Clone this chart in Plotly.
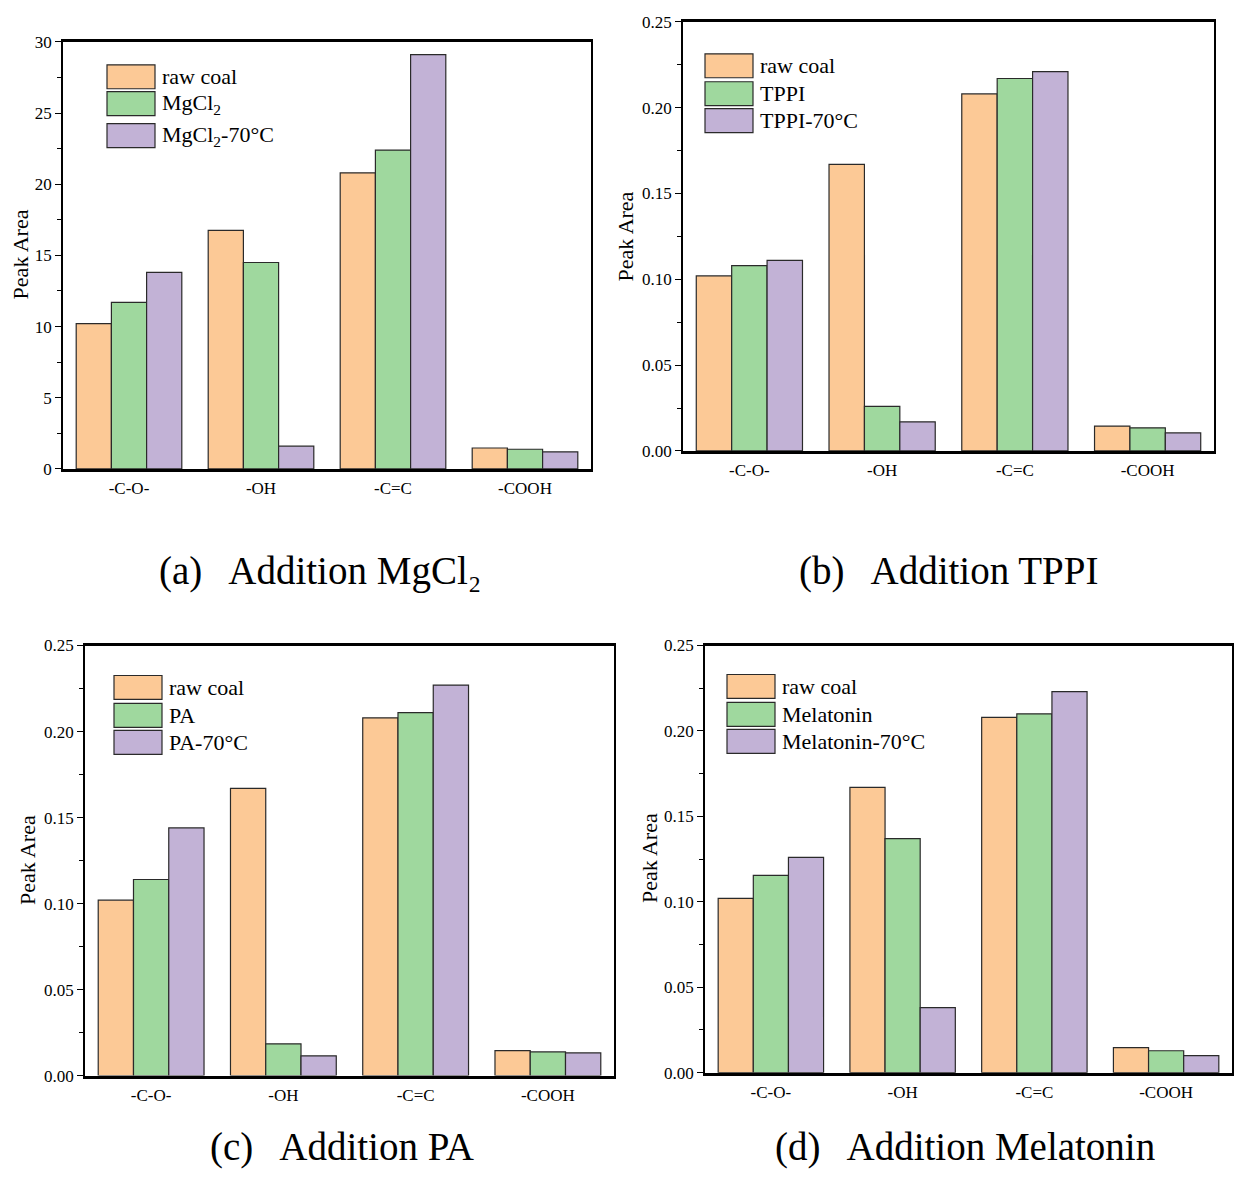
import plotly.graph_objects as go

W, H = 1234, 1180

categories = ["-C-O-", "-OH", "-C=C", "-COOH"]

# Panel (a) MgCl2
a_names = ["raw coal", "MgCl<sub>2</sub>", "MgCl<sub>2</sub>-70°C"]
a_raw = [10.2, 16.75, 20.8, 1.47]
a_add = [11.7, 14.5, 22.4, 1.38]
a_70 = [13.8, 1.6, 29.1, 1.2]

# Panel (b) TPPI
b_names = ["raw coal", "TPPI", "TPPI-70°C"]
b_raw = [0.102, 0.167, 0.208, 0.0145]
b_add = [0.108, 0.026, 0.217, 0.0135]
b_70 = [0.111, 0.017, 0.221, 0.0105]

# Panel (c) PA
c_names = ["raw coal", "PA", "PA-70°C"]
c_raw = [0.102, 0.167, 0.208, 0.0145]
c_add = [0.114, 0.0185, 0.211, 0.0138]
c_70 = [0.144, 0.0115, 0.227, 0.0132]

# Panel (d) Melatonin
d_names = ["raw coal", "Melatonin", "Melatonin-70°C"]
d_raw = [0.102, 0.167, 0.208, 0.0146]
d_add = [0.1155, 0.137, 0.210, 0.0128]
d_70 = [0.126, 0.038, 0.223, 0.0100]

captions = ["(a)\u2002\u2006Addition MgCl\u2082", "(b)\u2002\u2006Addition TPPI",
            "(c)\u2002\u2006Addition PA", "(d)\u2002\u2006Addition Melatonin"]
y_title = "Peak Area"

colors = ["#FCC996", "#9FD89E", "#C2B2D6"]
FONT = "Liberation Serif, Times New Roman, serif"

# layout geometry in pixels: (x0, x1, ytop, ybottom)
panels = [
    dict(box=(63, 591, 40, 468), rng=[0, 30], dtick=5, fmt="d", names=a_names,
         data=[a_raw, a_add, a_70], leg=(107, 63), cap=(320, 570), yt=(20, 253)),
    dict(box=(683, 1214, 20, 450), rng=[0, 0.25], dtick=0.05, fmt=".2f", names=b_names,
         data=[b_raw, b_add, b_70], leg=(705, 52), cap=(948, 570), yt=(625, 235)),
    dict(box=(85, 614, 645, 1076), rng=[0, 0.25], dtick=0.05, fmt=".2f", names=c_names,
         data=[c_raw, c_add, c_70], leg=(114, 675), cap=(342, None), yt=(27, 860)),
    dict(box=(705, 1232, 645, 1073), rng=[0, 0.25], dtick=0.05, fmt=".2f", names=d_names,
         data=[d_raw, d_add, d_70], leg=(727, 674), cap=(965, None), yt=(649, 858)),
]

def px(x):
    return x / W

def py(y):
    yf = (y - 7.1) / 0.986
    return 1 - yf / H

fig = go.Figure()
shapes = []
annotations = []

for i, p in enumerate(panels):
    n = "" if i == 0 else str(i + 1)
    xa = "x" + n
    ya = "y" + n
    for s in range(3):
        fig.add_trace(go.Bar(
            x=categories, y=p["data"][s], name=p["names"][s],
            xaxis=xa, yaxis=ya, showlegend=False,
            marker=dict(color=colors[s], line=dict(color="#2a2a2a", width=1.2)),
        ))
    x0, x1, yt, yb = p["box"]
    fig.layout["xaxis" + n] = dict(
        domain=[px(x0), px(x1)], anchor=ya, type="category",
        showline=True, linecolor="black", linewidth=2.5, mirror=True,
        ticks="", showgrid=False, tickfont=dict(family=FONT, size=17, color="black"),
        ticklabelstandoff=2,
    )
    fig.layout["yaxis" + n] = dict(
        domain=[py(yb), py(yt)], anchor=xa, range=p["rng"],
        showline=True, linecolor="black", linewidth=1.5, mirror=True,
        ticks="outside", ticklen=6, tickwidth=1.3, tickcolor="black",
        dtick=p["dtick"], tick0=0, tickformat=p["fmt"],
        minor=dict(ticks="outside", ticklen=4, tickwidth=1.3, tickcolor="black",
                   dtick=p["dtick"] / 2, tick0=0),
        showgrid=False, zeroline=False,
        tickfont=dict(family=FONT, size=17, color="black"),
    )
    # legend patches (decoration)
    lx, ly = p["leg"]
    row_off = [0, 27, 59] if i == 0 else [0, 28, 55]
    for s in range(3):
        top = ly + row_off[s]
        shapes.append(dict(type="rect", xref="paper", yref="paper",
                           x0=px(lx), x1=px(lx + 48), y0=py(top + 24), y1=py(top),
                           fillcolor=colors[s], line=dict(color="#2a2a2a", width=1.2)))
        annotations.append(dict(xref="paper", yref="paper", x=px(lx + 53), y=py(top + 12),
                                text=p["names"][s], showarrow=False, xanchor="left",
                                yanchor="middle",
                                font=dict(family=FONT, size=22, color="black")))
    # caption
    cx, cy = p["cap"]
    if cy is None:
        cap_y, cap_anchor = 0, "bottom"
    else:
        cap_y, cap_anchor = py(cy), "middle"
    annotations.append(dict(xref="paper", yref="paper", x=px(cx), y=cap_y,
                            text=captions[i], showarrow=False, xanchor="center",
                            yanchor=cap_anchor, borderpad=0,
                            font=dict(family=FONT, size=39, color="black")))
    # y title
    tx, ty = p["yt"]
    annotations.append(dict(xref="paper", yref="paper", x=px(tx), y=py(ty),
                            text=y_title, showarrow=False, textangle=-90,
                            xanchor="center", yanchor="middle",
                            font=dict(family=FONT, size=22, color="black")))

fig.update_layout(
    width=W, height=H, margin=dict(l=0, r=0, t=0, b=0),
    paper_bgcolor="white", plot_bgcolor="white",
    barmode="group", bargap=0.2, bargroupgap=0,
    shapes=shapes, annotations=annotations, showlegend=False,
    font=dict(family=FONT, color="black"),
)

fig.write_html("out.html",
               post_script="document.body.style.margin='0';document.body.style.padding='0';")
